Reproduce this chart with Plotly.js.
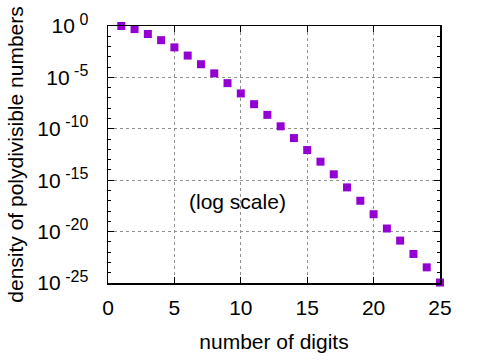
<!DOCTYPE html>
<html><head><meta charset="utf-8">
<script src="https://cdn.plot.ly/plotly-3.0.1.min.js"></script>
<style>body{margin:0;background:#fff}#chart{width:480px;height:360px}</style>
</head><body><div id="chart"></div>
<script>
const digits = [1,2,3,4,5,6,7,8,9,10,11,12,13,14,15,16,17,18,19,20,21,22,23,24,25];
const density = [1, 0.5, 0.1667, 0.04167, 8.333e-3, 1.333e-3, 1.903e-4, 2.474e-5, 2.769e-6, 2.769e-7,
  2.472e-8, 2.268e-9, 1.75e-10, 1.258e-11, 8.556e-13, 6.344e-14, 3.722e-15, 2.0e-16, 1.0e-17, 4.889e-19,
  2.0e-20, 1.333e-21, 6.667e-23, 3.333e-24, 1.111e-25];
const yTickVals = [1, 1e-5, 1e-10, 1e-15, 1e-20, 1e-25];
const yExponents = ['0','-5','-10','-15','-20','-25'];
const xTickVals = [0,5,10,15,20,25];

const yTickText = yExponents.map(e => '10<sup><span style="font-size:16px"> ' + e + '</span></sup>');
const font = {family: 'Liberation Sans, Arial, sans-serif', size: 21, color: '#000'};
Plotly.newPlot('chart', [{
  x: digits, y: density, type: 'scatter', mode: 'markers',
  marker: {symbol: 'square', size: 8, color: '#9400d3'},
  cliponaxis: false, showlegend: false
}], {
  width: 480, height: 360,
  margin: {l: 108, r: 40, t: 26, b: 77},
  paper_bgcolor: '#fff', plot_bgcolor: '#fff',
  font: font,
  xaxis: {
    range: [0, 25], tickmode: 'array', tickvals: xTickVals,
    ticks: 'inside', ticklen: 6, tickcolor: '#000', mirror: 'allticks',
    showline: true, linecolor: '#000', linewidth: 1.5,
    showgrid: true, gridcolor: '#909090', griddash: 'dot', gridwidth: 1,
    zeroline: false, ticklabelstandoff: 5,
    title: {text: 'number of digits', font: font, standoff: 16}
  },
  yaxis: {
    type: 'log', range: [-25, 0], tickmode: 'array', tickvals: yTickVals, ticktext: yTickText,
    ticks: 'inside', ticklen: 6, tickcolor: '#000', mirror: 'allticks',
    showline: true, linecolor: '#000', linewidth: 1.5,
    showgrid: true, gridcolor: '#909090', griddash: 'dot', gridwidth: 1,
    zeroline: false, ticklabelstandoff: 14,
    minor: {tickmode: 'linear', tick0: 0, dtick: 1, ticks: 'inside', ticklen: 3, tickcolor: '#000', showgrid: false},
    title: {text: 'density of polydivisible numbers', font: font, standoff: 8}
  },
  annotations: [{
    xref: 'paper', yref: 'paper', x: 0.389, y: 0.319, text: '(log scale)',
    showarrow: false, font: font, xanchor: 'center', yanchor: 'middle'
  }]
}, {staticPlot: true});
</script></body></html>
